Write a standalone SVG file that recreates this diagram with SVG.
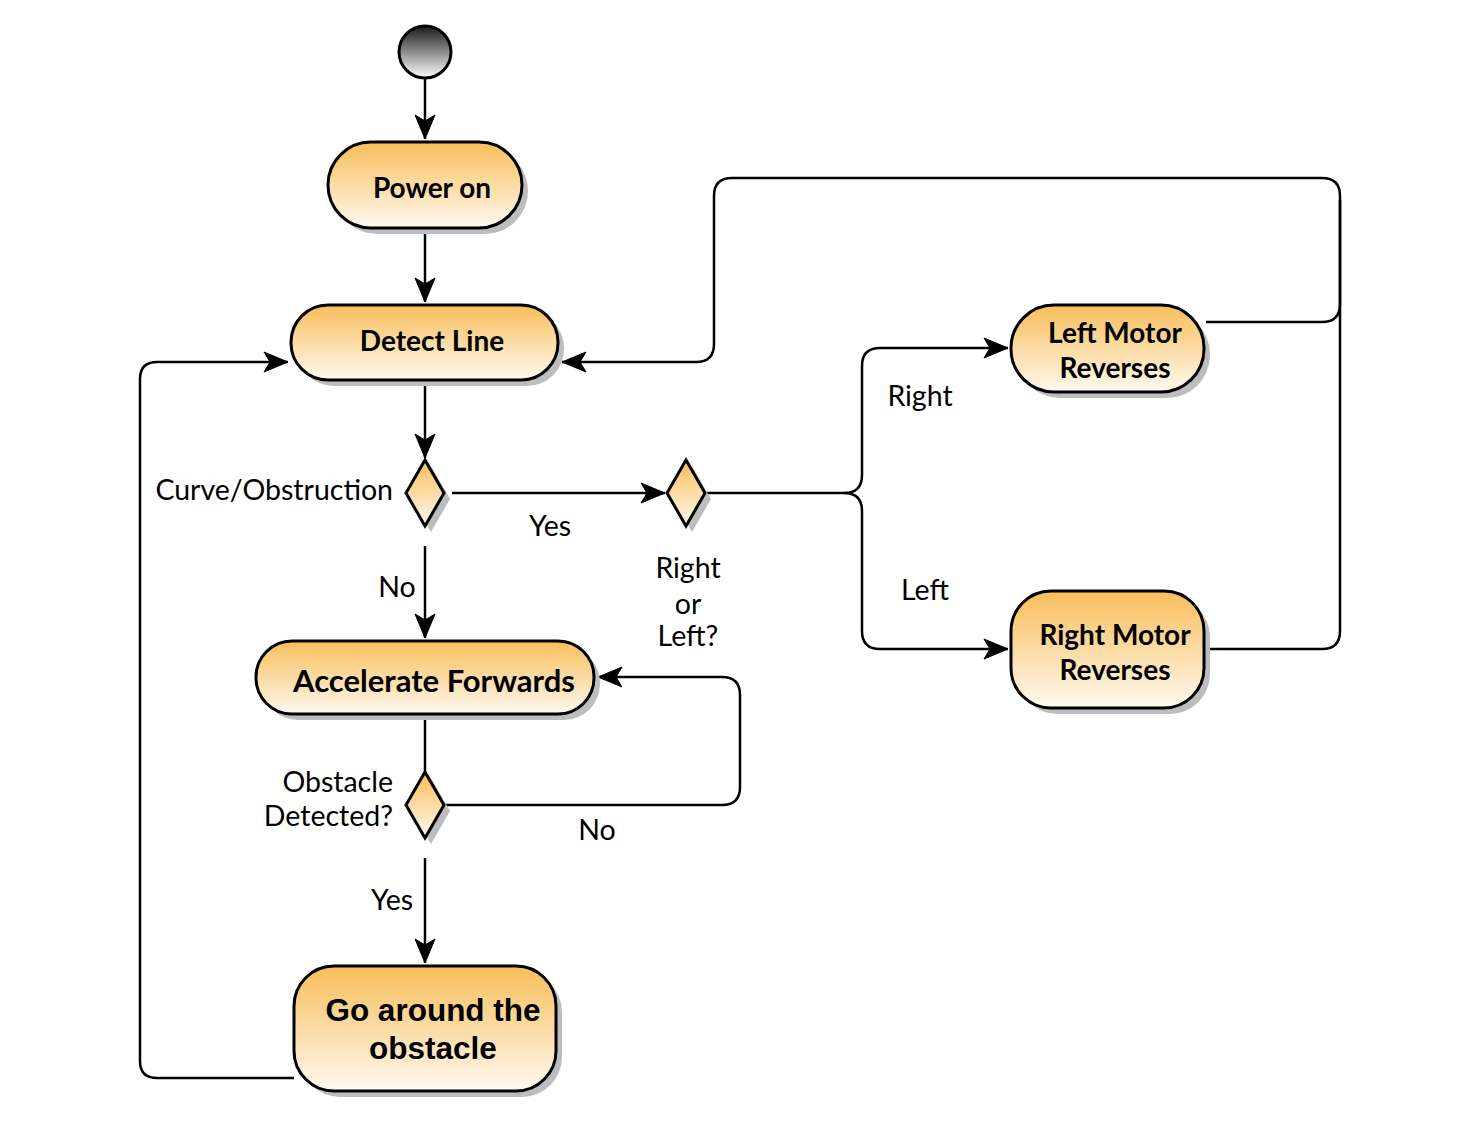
<svg xmlns="http://www.w3.org/2000/svg" width="1481" height="1124" viewBox="0 0 1481 1124">
  <defs>
    <linearGradient id="fillGrad" x1="0" y1="0" x2="0" y2="1">
      <stop offset="0" stop-color="#F8BE5A"/>
      <stop offset="1" stop-color="#FFF9F0"/>
    </linearGradient>
    <linearGradient id="startGrad" x1="0" y1="0" x2="0" y2="1">
      <stop offset="0" stop-color="#1a1a1a"/>
      <stop offset="1" stop-color="#ffffff"/>
    </linearGradient>
    <marker id="arrow" markerUnits="userSpaceOnUse" markerWidth="30" markerHeight="30" viewBox="-26 -12 30 24" refX="0" refY="0" orient="auto">
      <path d="M0,0 L-24,-10 L-18,0 L-24,10 Z" fill="#000" stroke="#000" stroke-width="1"/>
    </marker>
  </defs>
  <style>
    .node { fill: url(#fillGrad); stroke: #000; stroke-width: 3; }
    .shadow { fill: #bdbdbd; }
    .title { font-family: Lato, "Open Sans", sans-serif; font-weight: bold; font-size: 28px; fill: #000; text-anchor: middle; }
    .arial { font-family: "Liberation Sans", Arial, sans-serif; font-weight: bold; font-size: 31.5px; fill: #000; text-anchor: middle; }
    .label { font-family: Lato, "Open Sans", sans-serif; font-size: 28.5px; fill: #000; }
    .edge { fill: none; stroke: #000; stroke-width: 2.5; }
  </style>

  <!-- connectors -->
  <g id="connectors">
    <path class="edge" d="M425,78 L425,139" marker-end="url(#arrow)"/>
    <path class="edge" d="M425,228 L425,302" marker-end="url(#arrow)"/>
    <path class="edge" d="M425,380 L425,458" marker-end="url(#arrow)"/>
    <path class="edge" d="M452,493 L665,493" marker-end="url(#arrow)"/>
    <path class="edge" d="M705,493 L844,493 Q862,493 862,475 L862,366 Q862,348 880,348 L1008,348" marker-end="url(#arrow)"/>
    <path class="edge" d="M844,493 Q862,493 862,511 L862,631 Q862,649 880,649 L1008,649" marker-end="url(#arrow)"/>
    <path class="edge" d="M1206,322 L1322,322 Q1340,322 1340,304 L1340,196 Q1340,178 1322,178 L732,178 Q714,178 714,196 L714,344 Q714,362 696,362 L562,362" marker-end="url(#arrow)"/>
    <path class="edge" d="M1206,649 L1322,649 Q1340,649 1340,631 L1340,200"/>
    <path class="edge" d="M425,546 L425,638" marker-end="url(#arrow)"/>
    <path class="edge" d="M425,714 L425,772"/>
    <path class="edge" d="M444,805 L722,805 Q740,805 740,787 L740,695 Q740,677 722,677 L598,677" marker-end="url(#arrow)"/>
    <path class="edge" d="M425,858 L425,963" marker-end="url(#arrow)"/>
    <path class="edge" d="M294,1078 L157,1078 Q140,1078 140,1061 L140,379 Q140,362 157,362 L288,362" marker-end="url(#arrow)"/>
  </g>

  <!-- start -->
  <g id="start">
    <circle cx="425" cy="52" r="26" fill="url(#startGrad)" stroke="#000" stroke-width="3"/>
  </g>

  <g id="power-on">
    <rect class="shadow" x="334" y="148" width="194" height="86" rx="43"/>
    <rect class="node" x="328" y="142" width="194" height="86" rx="43"/>
    <text class="title" x="432" y="198">Power on</text>
  </g>

  <g id="detect-line">
    <rect class="shadow" x="297" y="311" width="267" height="75" rx="37"/>
    <rect class="node" x="291" y="305" width="267" height="75" rx="37"/>
    <text class="title" x="432" y="351">Detect Line</text>
  </g>

  <g id="decision-curve">
    <path class="shadow" d="M431,466 L450,499 L431,532 L412,499 Z"/>
    <path class="node" d="M425,460 L444,493 L425,526 L406,493 Z"/>
    <text class="label" x="393" y="500" text-anchor="end">Curve/Obstruction</text>
    <text class="label" x="550" y="536" text-anchor="middle">Yes</text>
    <text class="label" x="397" y="597" text-anchor="middle">No</text>
  </g>

  <g id="decision-direction">
    <path class="shadow" d="M692,466 L711,499 L692,532 L673,499 Z"/>
    <path class="node" d="M686,460 L705,493 L686,526 L667,493 Z"/>
    <text class="label" x="688" y="578" text-anchor="middle">Right</text>
    <text class="label" x="688" y="614" text-anchor="middle">or</text>
    <text class="label" x="688" y="646" text-anchor="middle">Left?</text>
    <text class="label" x="920" y="406" text-anchor="middle">Right</text>
    <text class="label" x="925" y="600" text-anchor="middle">Left</text>
  </g>

  <g id="left-motor">
    <rect class="shadow" x="1017" y="311" width="193" height="87" rx="43"/>
    <rect class="node" x="1011" y="305" width="193" height="87" rx="43"/>
    <text class="title" x="1115" y="343">Left Motor</text>
    <text class="title" x="1115" y="378">Reverses</text>
  </g>

  <g id="right-motor">
    <rect class="shadow" x="1017" y="597" width="193" height="117" rx="40"/>
    <rect class="node" x="1011" y="591" width="193" height="117" rx="40"/>
    <text class="title" x="1115" y="645">Right Motor</text>
    <text class="title" x="1115" y="680">Reverses</text>
  </g>

  <g id="accelerate">
    <rect class="shadow" x="262" y="647" width="338" height="73" rx="36"/>
    <rect class="node" x="256" y="641" width="338" height="73" rx="36"/>
    <text class="title" x="434" y="692" style="font-size:31px">Accelerate Forwards</text>
  </g>

  <g id="decision-obstacle">
    <path class="shadow" d="M431,778 L450,811 L431,844 L412,811 Z"/>
    <path class="node" d="M425,772 L444,805 L425,838 L406,805 Z"/>
    <text class="label" x="393" y="792" text-anchor="end">Obstacle</text>
    <text class="label" x="393" y="826" text-anchor="end">Detected?</text>
    <text class="label" x="597" y="840" text-anchor="middle">No</text>
    <text class="label" x="392" y="910" text-anchor="middle">Yes</text>
  </g>

  <g id="go-around">
    <rect class="shadow" x="300" y="972" width="262" height="125" rx="40"/>
    <rect class="node" x="294" y="966" width="262" height="125" rx="40"/>
    <text class="arial" x="433" y="1021">Go around the</text>
    <text class="arial" x="433" y="1059">obstacle</text>
  </g>
</svg>
